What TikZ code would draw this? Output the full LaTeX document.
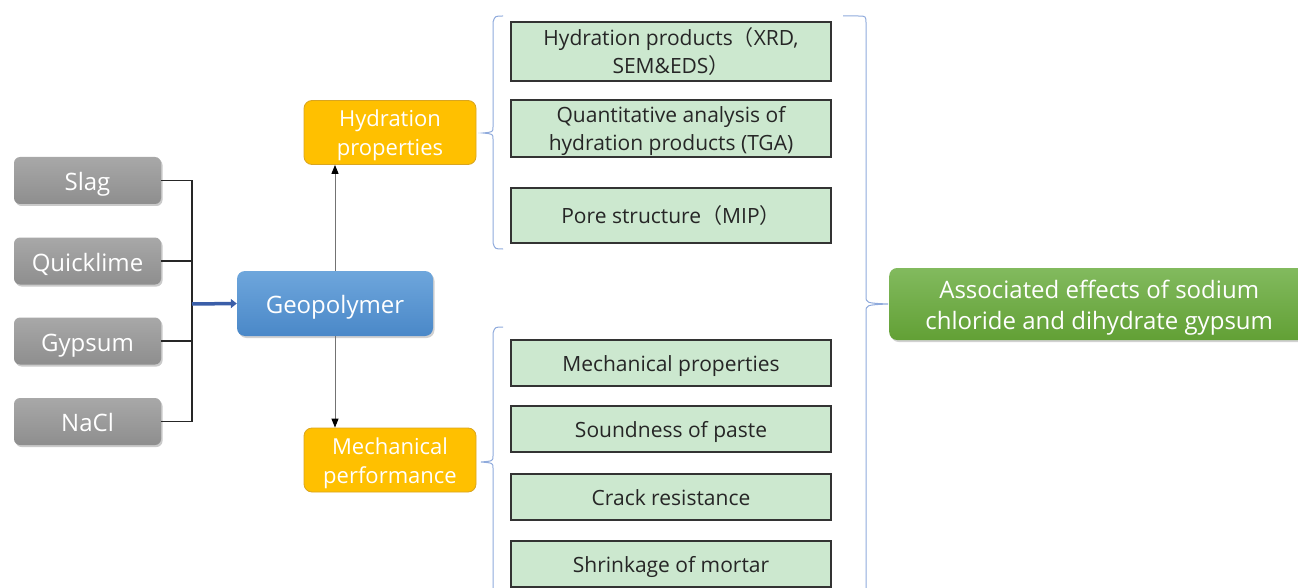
\documentclass[tikz,border=0pt]{standalone}
\usepackage{fontspec}
\setmainfont{Open Sans}
\newfontfamily\cjk{Noto Sans CJK SC}
\usetikzlibrary{arrows.meta,shadows}
\definecolor{grayT}{HTML}{A8A8A8}
\definecolor{grayB}{HTML}{8E8E8E}
\definecolor{blueT}{HTML}{6EA6DC}
\definecolor{blueB}{HTML}{4A88C8}
\definecolor{orangeF}{HTML}{FFC000}
\definecolor{orangeD}{HTML}{D9A520}
\definecolor{paleG}{HTML}{CCE8CF}
\definecolor{greenT}{HTML}{82BA5E}
\definecolor{greenB}{HTML}{62A035}
\definecolor{braceC}{HTML}{8FAADC}
\definecolor{arrowBlue}{HTML}{3A5EA8}
\newcommand\lowerby[1]{\rule{0pt}{#1}}
\tikzset{
  bigline/.style={text height=22pt, text depth=2pt},
  smallline/.style={text height=19pt, text depth=2pt},
  inbox/.style={rounded corners=6pt, top color=grayT, bottom color=grayB, draw=none,
    minimum width=147pt, minimum height=47pt, text=white, inner sep=0pt,
    font=\fontsize{24}{28}\selectfont, bigline,
    drop shadow={shadow xshift=1.5pt, shadow yshift=-2pt, opacity=0.35, fill=black!60}},
  geobox/.style={rounded corners=8pt, top color=blueT, bottom color=blueB, draw=none,
    minimum width=196pt, minimum height=65pt, text=white, inner sep=0pt,
    font=\fontsize{24}{28}\selectfont, bigline,
    drop shadow={shadow xshift=1.5pt, shadow yshift=-2pt, opacity=0.3, fill=black!60}},
  catbox/.style={rounded corners=8pt, fill=orangeF, draw=orangeD, line width=0.8pt,
    minimum width=172pt, minimum height=64pt, text=white, inner sep=0pt, align=center,
    font=\fontsize{22}{29}\selectfont},
  itembox/.style={fill=paleG, draw=black!80, line width=1.6pt,
    minimum width=320pt, text=black!85, inner sep=0pt, align=center,
    font=\fontsize{21}{28}\selectfont},
  resbox/.style={rounded corners=8pt, top color=greenT, bottom color=greenB, draw=none,
    minimum width=420pt, minimum height=72pt, text=white, inner sep=0pt, align=center,
    font=\fontsize{24}{31}\selectfont,
    drop shadow={shadow xshift=1.5pt, shadow yshift=-2pt, opacity=0.3, fill=black!60}},
  feed/.style={line width=1.4pt, black!85},
  thin arrow/.style={line width=1pt, black!55, -{Triangle[length=9pt,width=7pt,fill=black,color=black]}},
  bracepath/.style={line width=1pt, braceC},
}
\begin{document}
\begin{tikzpicture}[x=1pt,y=-1pt]
\useasboundingbox (0,0) rectangle (1298,588);
\clip (0,0) rectangle (1298,588);
% inputs
\node[inbox] (slag) at (87.5,180.5) {Slag};
\node[inbox] (quick) at (87.5,261) {Quicklime};
\node[inbox] (gyps) at (87.5,341) {Gypsum};
\node[inbox] (nacl) at (87.5,421.5) {NaCl};
% geopolymer
\node[geobox] (geo) at (335,303.5) {Geopolymer};
% categories
\node[catbox] (hyd) at (390,132.5) {\lowerby{23pt}Hydration\\properties};
\node[catbox] (mech) at (390,460) {\lowerby{23pt}Mechanical\\performance};
% items
\node[itembox, minimum height=59pt] (i1) at (671,51.5) {Hydration products{\cjk（}XRD,\\SEM\&EDS{\cjk）}};
\node[itembox, minimum height=57pt] (i2) at (671,128.5) {\lowerby{21pt}Quantitative analysis of\\hydration products (TGA)};
\node[itembox, minimum height=55pt, smallline] (i3) at (671,215.5) {Pore structure{\cjk（}MIP{\cjk）}};
\node[itembox, minimum height=46pt, smallline] (i4) at (671,363) {Mechanical properties};
\node[itembox, minimum height=46pt, smallline] (i5) at (671,429) {Soundness of paste};
\node[itembox, minimum height=46pt, smallline] (i6) at (671,497) {Crack resistance};
\node[itembox, minimum height=46pt, smallline] (i7) at (671,564) {Shrinkage of mortar};
% result
\node[resbox, anchor=west] (res) at (889,304) {\lowerby{26pt}Associated effects of sodium\\chloride and dihydrate gypsum};
% feed lines
\coordinate (bus) at (192,304);
\draw[feed] (slag.east) -- (192,180.5) -- (192,421.5) -- (nacl.east);
\draw[feed] (quick.east) -- (192,261);
\draw[feed] (gyps.east) -- (192,341);
\draw[line width=3.5pt, arrowBlue, -{Triangle[length=6pt,width=9pt]}] (bus) -- (geo.west);
\draw[thin arrow] (geo.north) -- (geo.north |- hyd.south);
\draw[thin arrow] (geo.south) -- (geo.south |- mech.north);
% brace 1
\draw[bracepath] (503,16) .. controls (495,16) .. (493,22) -- (493,127)
  .. controls (493,132) .. (483,133) .. controls (493,134) .. (493,139)
  -- (493,243) .. controls (495,249) .. (503,249);
% brace 2
\draw[bracepath] (503,327) .. controls (495,327) .. (493,333) -- (493,456)
  .. controls (493,461) .. (481,462) .. controls (493,463) .. (493,468)
  -- (493,600);
% big brace
\coordinate (tip) at (888,304);
\draw[bracepath] (843,16) -- (858,16) .. controls (866,16) .. (866,24) -- (866,296)
  .. controls (866,303) .. (tip) .. controls (866,305) .. (866,312) -- (866,600);
\end{tikzpicture}
\end{document}
